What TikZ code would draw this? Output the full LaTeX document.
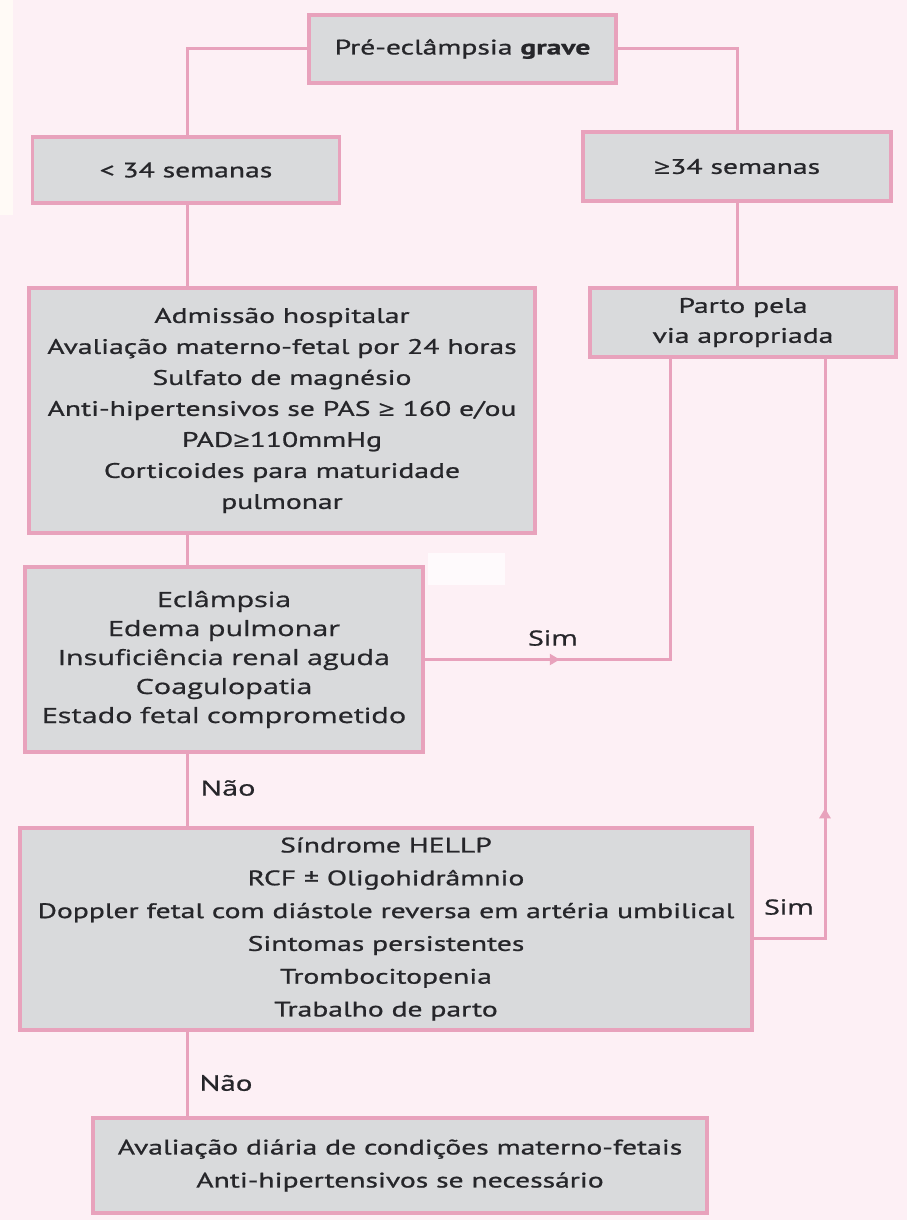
\documentclass[tikz,border=0pt]{standalone}
\usepackage{fontspec}
\setmainfont[FakeStretch=1.41,FakeBold=0.9]{PT Sans}
\newfontfamily\opensans[FakeStretch=1.37,FakeBold=0.9]{Open Sans}
\newcommand{\mygeq}{{\opensans\fontsize{21}{21}\selectfont ≥}}
\usetikzlibrary{arrows.meta,decorations.markings}
\definecolor{bg}{RGB}{253,240,245}
\definecolor{cream}{RGB}{255,250,246}
\definecolor{pinkline}{RGB}{232,162,188}
\definecolor{boxfill}{RGB}{217,218,220}
\definecolor{txt}{RGB}{38,38,42}
\begin{document}
\begin{tikzpicture}[x=1pt,y={(0pt,-1pt)},
  box/.style={draw=pinkline, fill=boxfill, line width=3.5pt, inner sep=0pt,
    align=center, text=txt, font=\fontsize{21}{31}\selectfont},
  widebox/.style={box, font=\opensans\fontsize{21}{29}\selectfont},
  conn/.style={color=pinkline, line width=3pt},
  midarrow/.style={postaction={decorate}, decoration={markings,
    mark=at position #1 with {\arrow{Triangle[length=10pt,width=11pt]}}}},
  lbl/.style={text=txt, inner sep=0pt, font=\fontsize{22}{25}\selectfont},
  widelbl/.style={lbl, font=\opensans\fontsize{21}{24}\selectfont}]
\fill[bg] (0,0) rectangle (907,1220);
\useasboundingbox (0,0) rectangle (907,1220);
\fill[cream] (0,0) rectangle (13,215);
\fill[white!70!bg] (428,553) rectangle (505,585);

\coordinate (spine) at (187,0);
\coordinate (c1) at (670,659.5);
\coordinate (c2) at (825,938);

\node[box, minimum width=307, minimum height=68] (top) at (462.5,49) {Pré-eclâmpsia \textbf{grave}};
\node[box, minimum width=307, minimum height=66] (lt) at (186,170) {< 34 semanas};
\node[box, minimum width=308, minimum height=69] (gt) at (737,166.5) {\mygeq34 semanas};
\node[box, minimum width=506, minimum height=245] (adm) at (282,410.5) {Admissão hospitalar\\Avaliação materno-fetal por 24 horas\\Sulfato de magnésio\\Anti-hipertensivos se PAS \mygeq{} 160 e/ou\\PAD\mygeq110mmHg\\Corticoides para maturidade\\pulmonar};
\node[box, minimum width=306, minimum height=69, font=\fontsize{21}{30}\selectfont] (parto) at (743,322.5) {Parto pela\\via apropriada};
\node[widebox, minimum width=398, minimum height=185] (ecl) at (224,659.5) {Eclâmpsia\\Edema pulmonar\\Insuficiência renal aguda\\Coagulopatia\\Estado fetal comprometido};
\node[box, minimum width=732, minimum height=202, font=\fontsize{21}{32.8}\selectfont] (hellp) at (386,929) {Síndrome HELLP\\RCF ± Oligohidrâmnio\\Doppler fetal com diástole reversa em artéria umbilical\\Sintomas persistentes\\Trombocitopenia\\Trabalho de parto};
\node[box, minimum width=614, minimum height=95, font=\fontsize{21}{33}\selectfont] (fin) at (400,1165.5) {Avaliação diária de condições materno-fetais\\Anti-hipertensivos se necessário};

\draw[conn] (top.west) -- (top.west -| spine) -- (lt.north -| spine);
\draw[conn] (top.east) -- (top.east -| gt.north) -- (gt.north);
\draw[conn] (lt.south -| spine) -- (adm.north -| spine);
\draw[conn] (gt.south) -- (parto.north -| gt.south);
\draw[conn] (adm.south -| spine) -- (ecl.north -| spine);
\draw[conn] (ecl.south -| spine) -- (hellp.north -| spine);
\draw[conn] (hellp.south -| spine) -- (fin.north -| spine);
\draw[conn, midarrow=135pt] (ecl.east) -- (c1) -- (parto.south -| c1);
\draw[conn, midarrow=201pt] (hellp.east |- c2) -- (c2) -- (parto.south -| c2);

\node[widelbl] (sim1) at (553,638) {Sim};
\node[widelbl] (nao1) at (228,788) {Não};
\node[widelbl] (sim2) at (789,907) {Sim};
\node[lbl] (nao2) at (226,1083) {Não};
\end{tikzpicture}
\end{document}
